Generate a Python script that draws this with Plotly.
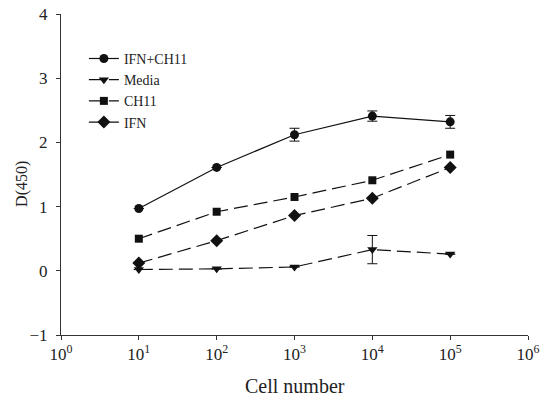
import plotly.graph_objects as go

cells = [1e1, 1e2, 1e3, 1e4, 1e5]
ifn_ch11 = [0.97, 1.61, 2.12, 2.41, 2.32]
ifn_ch11_err = [0.0, 0.0, 0.1, 0.08, 0.1]
media = [0.02, 0.03, 0.06, 0.33, 0.26]
media_err = [0.0, 0.0, 0.0, 0.22, 0.0]
ch11 = [0.5, 0.92, 1.15, 1.41, 1.81]
ifn = [0.12, 0.47, 0.86, 1.13, 1.61]

xtickvals = [1, 10, 100, 1000, 10000, 100000, 1000000]
xticktext = ["10<sup>%d</sup>" % i for i in range(7)]
ytickvals = [-1, 0, 1, 2, 3, 4]

serif = "Liberation Serif, Times New Roman, serif"
font = dict(family=serif, size=17, color="#222")

fig = go.Figure()
fig.add_trace(go.Scatter(x=cells, y=ifn_ch11, name="IFN+CH11", mode="lines+markers",
                         line=dict(color="#111", width=1.2),
                         marker=dict(symbol="circle", size=9, color="#111"),
                         error_y=dict(type="data", array=ifn_ch11_err, color="#111", thickness=1, width=5)))
fig.add_trace(go.Scatter(x=cells, y=media, name="Media", mode="lines+markers",
                         line=dict(color="#111", width=1.2, dash="14px,6px"),
                         marker=dict(symbol="triangle-down", size=9, color="#111"),
                         error_y=dict(type="data", array=media_err, color="#111", thickness=1, width=5)))
fig.add_trace(go.Scatter(x=cells, y=ch11, name="CH11", mode="lines+markers",
                         line=dict(color="#111", width=1.2, dash="14px,6px"),
                         marker=dict(symbol="square", size=8, color="#111")))
fig.add_trace(go.Scatter(x=cells, y=ifn, name="IFN", mode="lines+markers",
                         line=dict(color="#111", width=1.2, dash="14px,6px"),
                         marker=dict(symbol="diamond", size=10, color="#111")))

fig.update_layout(
    width=541, height=396,
    margin=dict(l=61, r=13, t=14, b=61),
    paper_bgcolor="white", plot_bgcolor="white",
    font=font,
    showlegend=True,
    legend=dict(x=0.049, y=0.91, xanchor="left", yanchor="top", bgcolor="rgba(0,0,0,0)",
                font=dict(family=serif, size=14, color="#222"),
                tracegroupgap=0, itemwidth=30),
    xaxis=dict(type="log", range=[0, 6], tickvals=xtickvals, ticktext=xticktext,
               showgrid=False, zeroline=False, showline=True, linecolor="#333", linewidth=1,
               ticks="outside", ticklen=4, tickcolor="#333", automargin=False,
               ticklabeloverflow="allow",
               tickfont=dict(family=serif, size=17)),
    yaxis=dict(range=[-1, 4], tickvals=ytickvals, showgrid=False, zeroline=False,
               showline=True, linecolor="#333", linewidth=1,
               ticks="outside", ticklen=4, tickcolor="#333", automargin=False,
               ticklabelstandoff=5, ticklabeloverflow="allow",
               tickfont=dict(family=serif, size=17)),
    annotations=[
        dict(text="Cell number", xref="paper", yref="paper", x=0.5, y=-0.16,
             xanchor="center", yanchor="middle", showarrow=False,
             font=dict(family=serif, size=20, color="#222")),
        dict(text="D(450)", xref="paper", yref="paper", x=-0.084, y=0.47,
             xanchor="center", yanchor="middle", textangle=-90, showarrow=False,
             font=dict(family=serif, size=16, color="#222")),
    ],
)

# remove the browser's default 8px body margin so the figure fills the window exactly
fig.write_html("out.html",
               config={"displayModeBar": False},
               post_script="document.body.style.margin='0';document.body.style.overflow='hidden';")
